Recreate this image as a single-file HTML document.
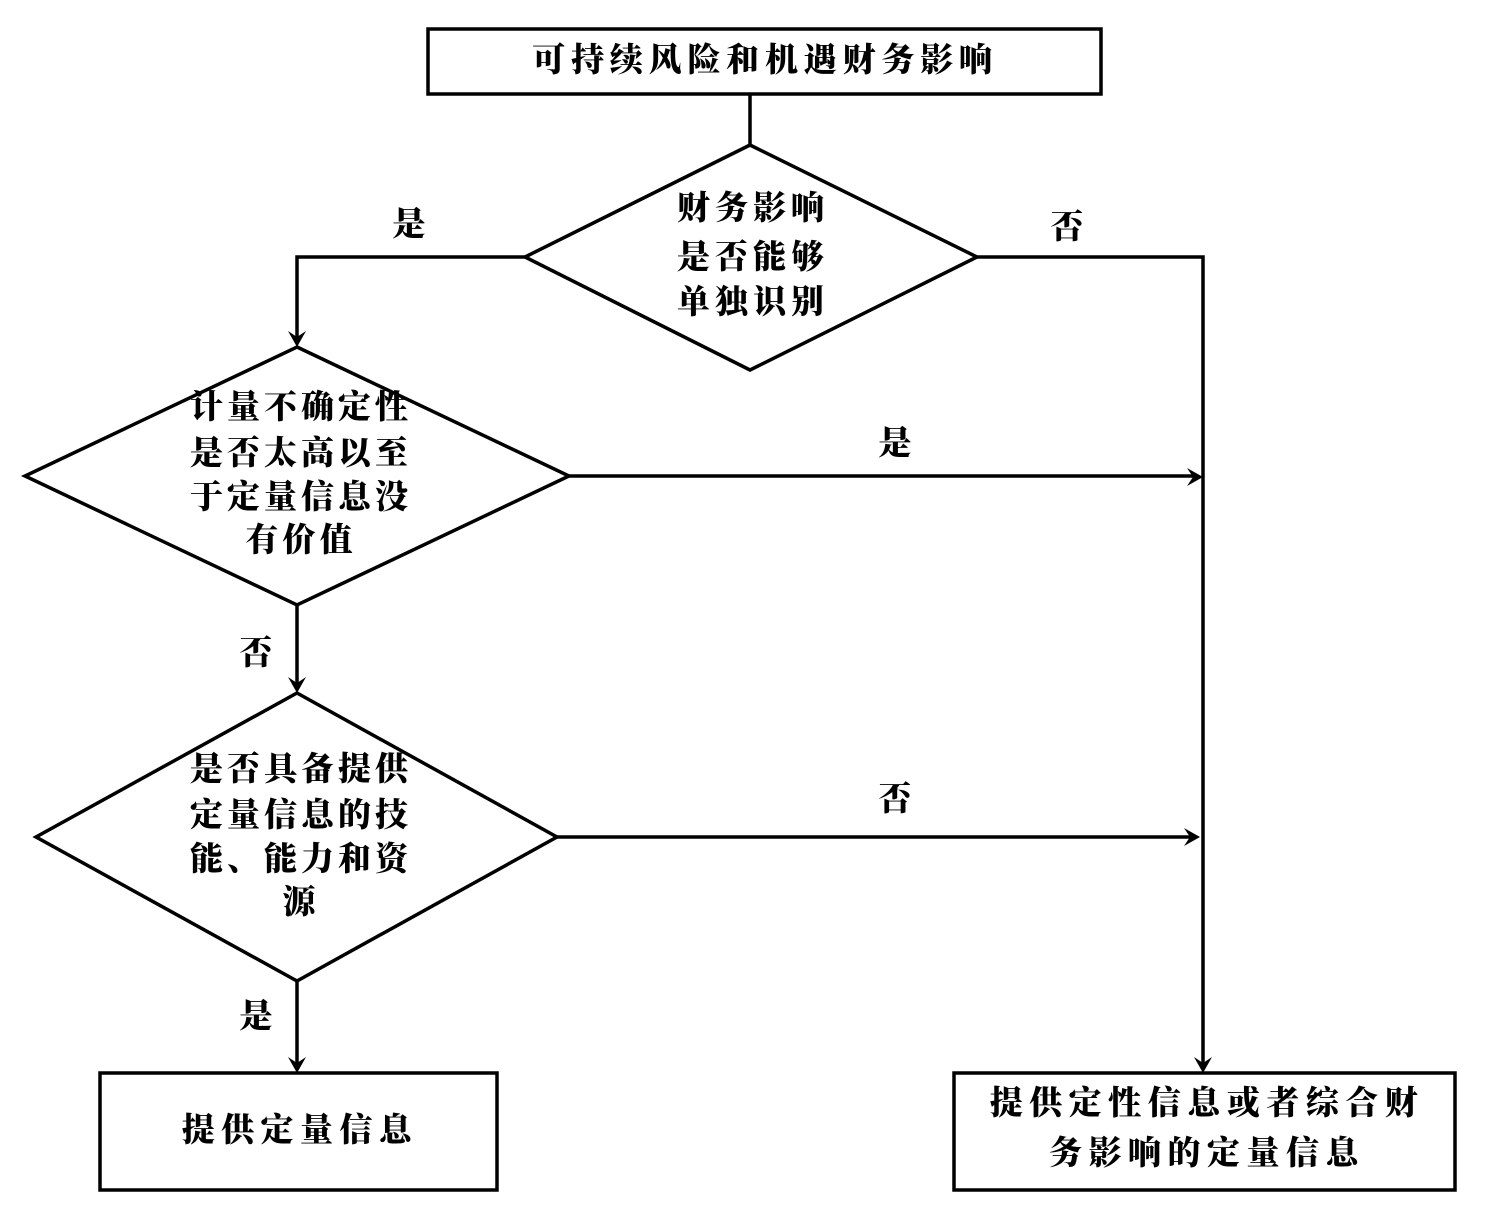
<!DOCTYPE html>
<html>
<head>
<meta charset="utf-8">
<style>
html,body{margin:0;padding:0;background:#fff;}
svg{display:block;}
text{font-family:"Liberation Serif","Noto Serif CJK SC","Noto Sans CJK SC",serif;font-weight:900;font-size:33px;fill:#000;}
</style>
</head>
<body>
<svg width="1488" height="1219" viewBox="0 0 1488 1219" xmlns="http://www.w3.org/2000/svg">
<g fill="none" stroke="#000" stroke-width="3.5" stroke-linejoin="miter">
  <rect x="428" y="29" width="673" height="65"/>
  <line x1="750" y1="94" x2="750" y2="145"/>
  <polygon points="750,145 977,257 750,370 525,257"/>
  <polyline points="525,257 297,257 297,340"/>
  <polyline points="977,257 1203,257 1203,1066"/>
  <polygon points="297,347 569,476 297,605 25,476"/>
  <line x1="569" y1="476" x2="1196" y2="476"/>
  <line x1="297" y1="605" x2="297" y2="686"/>
  <polygon points="297,693 557,837 297,981 36,837"/>
  <line x1="557" y1="837" x2="1193" y2="837"/>
  <line x1="297" y1="981" x2="297" y2="1066"/>
  <rect x="100" y="1073" width="397" height="117"/>
  <rect x="954" y="1073" width="501" height="117"/>
</g>
<g fill="#000" stroke="none">
  <polygon points="297,347 288,331 297,337 306,331"/>
  <polygon points="297,693 288,677 297,683 306,677"/>
  <polygon points="297,1073 288,1057 297,1063 306,1057"/>
  <polygon points="1203,1073 1194,1057 1203,1063 1212,1057"/>
  <polygon points="1203,477 1187,468 1193,477 1187,486"/>
  <polygon points="1200,837 1184,828 1190,837 1184,846"/>
</g>
<g text-anchor="middle" dominant-baseline="central">
  <text x="765" y="61" letter-spacing="5.8">可持续风险和机遇财务影响</text>

  <text x="753" y="209" letter-spacing="5">财务影响</text>
  <text x="753" y="258" letter-spacing="5">是否能够</text>
  <text x="753" y="303" letter-spacing="5">单独识别</text>

  <text x="301" y="408" letter-spacing="4">计量不确定性</text>
  <text x="301" y="454" letter-spacing="4">是否太高以至</text>
  <text x="301" y="498" letter-spacing="4">于定量信息没</text>
  <text x="301" y="541" letter-spacing="4">有价值</text>

  <text x="301" y="770" letter-spacing="4">是否具备提供</text>
  <text x="301" y="816" letter-spacing="4">定量信息的技</text>
  <text x="301" y="860" letter-spacing="4">能、能力和资</text>
  <text x="299" y="903">源</text>

  <text x="300" y="1131" letter-spacing="6.4">提供定量信息</text>
  <text x="1207" y="1104" letter-spacing="6.5">提供定性信息或者综合财</text>
  <text x="1207" y="1154" letter-spacing="6.5">务影响的定量信息</text>

  <text x="409" y="225">是</text>
  <text x="1067" y="228">否</text>
  <text x="895" y="444">是</text>
  <text x="256" y="654">否</text>
  <text x="895" y="800">否</text>
  <text x="256" y="1017">是</text>
</g>
</svg>
</body>
</html>
